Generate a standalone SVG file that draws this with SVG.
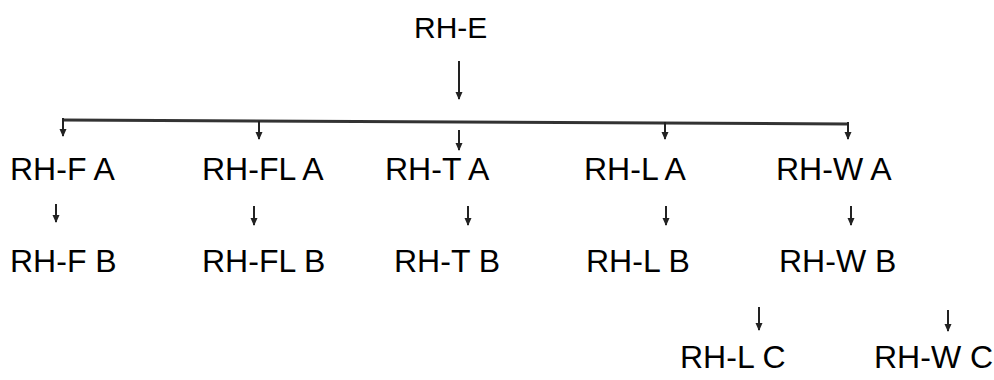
<svg xmlns="http://www.w3.org/2000/svg" width="994" height="380" viewBox="0 0 994 380">
<style>
text{font-family:"Liberation Sans",Arial,sans-serif;font-size:32px;fill:#000}
.c{stroke:#222;stroke-width:2;fill:none}
</style>
<defs>
<marker id="ah" markerWidth="8" markerHeight="8" refX="7" refY="4" orient="auto" markerUnits="userSpaceOnUse" viewBox="0 0 8 8">
<path d="M0,0.5 L8,4 L0,7.5 Z" fill="#222"/>
</marker>
</defs>
<rect width="994" height="380" fill="#fff"/>
<g id="connectors">
<line class="c" x1="459" y1="61" x2="459" y2="99" marker-end="url(#ah)"/>
<line x1="63" y1="120" x2="848" y2="124" stroke="#333" stroke-width="3"/>
<line class="c" x1="63" y1="118" x2="63" y2="136" marker-end="url(#ah)"/>
<line class="c" x1="259" y1="121" x2="259" y2="139" marker-end="url(#ah)"/>
<line class="c" x1="459" y1="130" x2="459" y2="150" marker-end="url(#ah)"/>
<line class="c" x1="665" y1="122" x2="665" y2="139" marker-end="url(#ah)"/>
<line class="c" x1="848" y1="122" x2="848" y2="139" marker-end="url(#ah)"/>
<line class="c" x1="56" y1="204" x2="56" y2="222" marker-end="url(#ah)"/>
<line class="c" x1="254" y1="206" x2="254" y2="225" marker-end="url(#ah)"/>
<line class="c" x1="468" y1="206" x2="468" y2="225" marker-end="url(#ah)"/>
<line class="c" x1="666" y1="206" x2="666" y2="225" marker-end="url(#ah)"/>
<line class="c" x1="851" y1="206" x2="851" y2="225" marker-end="url(#ah)"/>
<line class="c" x1="759" y1="307" x2="759" y2="330" marker-end="url(#ah)"/>
<line class="c" x1="948" y1="310" x2="948" y2="331" marker-end="url(#ah)"/>
</g>
<g id="n-rhe"><text x="414" y="38" style="font-size:30px">RH-E</text></g>
<g id="n-rhfa"><text x="10" y="180">RH-F A</text></g>
<g id="n-rhfla"><text x="202" y="180">RH-FL A</text></g>
<g id="n-rhta"><text x="385" y="180">RH-T A</text></g>
<g id="n-rhla"><text x="584" y="180">RH-L A</text></g>
<g id="n-rhwa"><text x="776" y="180">RH-W A</text></g>
<g id="n-rhfb"><text x="10" y="272">RH-F B</text></g>
<g id="n-rhflb"><text x="202" y="272">RH-FL B</text></g>
<g id="n-rhtb"><text x="394" y="272">RH-T B</text></g>
<g id="n-rhlb"><text x="586" y="272">RH-L B</text></g>
<g id="n-rhwb"><text x="779" y="272">RH-W B</text></g>
<g id="n-rhlc"><text x="680" y="368">RH-L C</text></g>
<g id="n-rhwc"><text x="874" y="368">RH-W C</text></g>
</svg>
